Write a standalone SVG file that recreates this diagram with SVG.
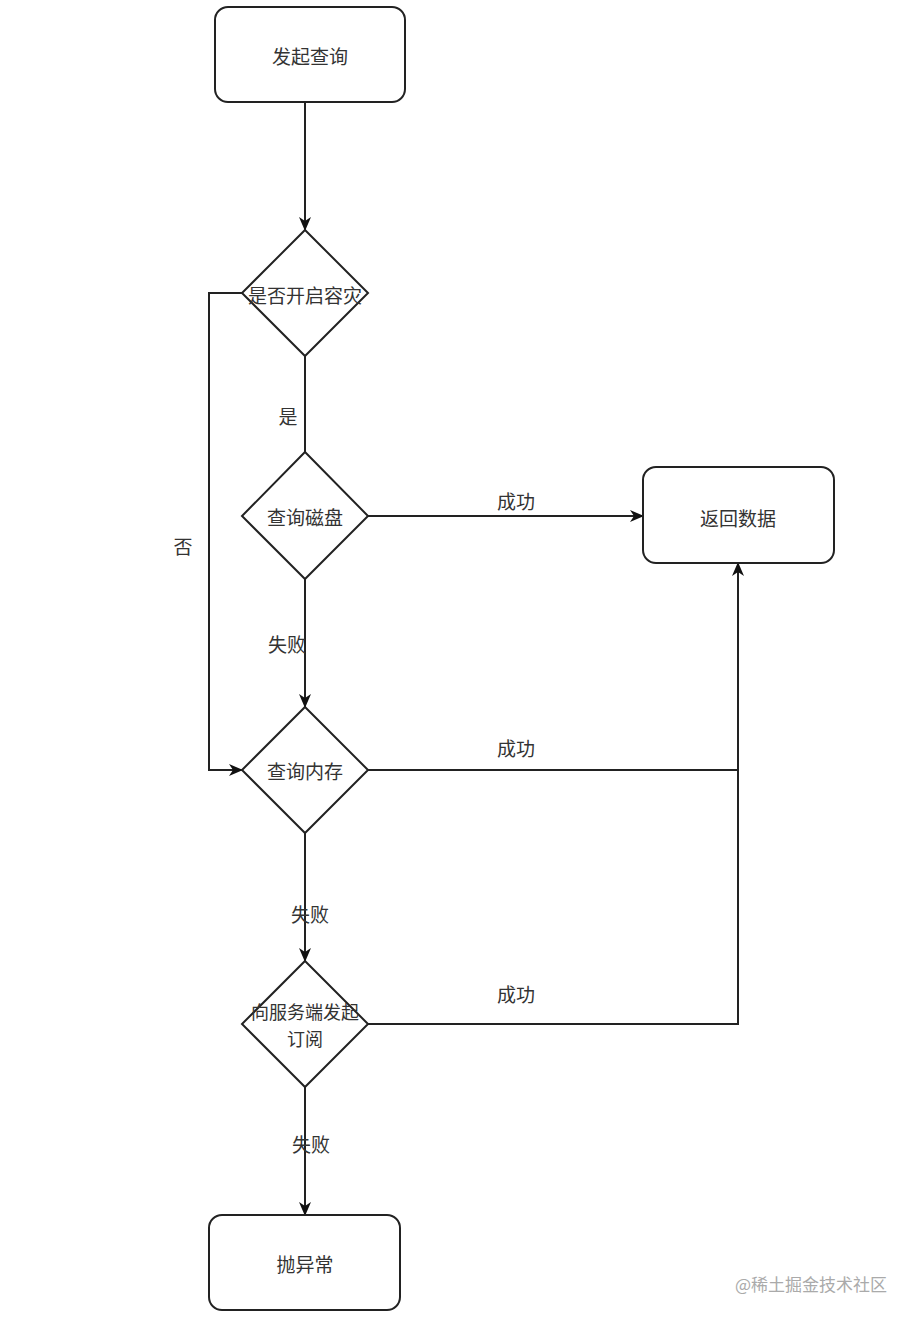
<svg xmlns="http://www.w3.org/2000/svg" width="924" height="1322" viewBox="0 0 924 1322">
<style>
.n{fill:#fff;stroke:#222;stroke-width:2}
.e{fill:none;stroke:#222;stroke-width:2}
.t{font-family:"Noto Sans CJK SC","Noto Sans",sans-serif;font-size:19px;fill:#333;text-anchor:middle;dominant-baseline:central}
.s{font-size:18px}
.w{font-family:"Noto Sans CJK SC","Noto Sans",sans-serif;font-size:17px;fill:#aaa;text-anchor:start;dominant-baseline:central}
</style>
<defs>
<marker id="arr" viewBox="0 0 14 12" refX="13" refY="6" markerWidth="14" markerHeight="12" markerUnits="userSpaceOnUse" orient="auto">
<path d="M0,0 L14,6 L0,12 L4,6 Z" fill="#111"/>
</marker>
</defs>
<rect width="924" height="1322" fill="#fff"/>
<g id="connectors">
<path class="e" d="M305,102 V230" marker-end="url(#arr)"/>
<path class="e" d="M242,293 H209 V770 H242" marker-end="url(#arr)"/>
<path class="e" d="M305,356 V452"/>
<path class="e" d="M368,516 H643" marker-end="url(#arr)"/>
<path class="e" d="M305,579 V707" marker-end="url(#arr)"/>
<path class="e" d="M368,770 H738"/>
<path class="e" d="M305,833 V961" marker-end="url(#arr)"/>
<path class="e" d="M368,1024 H738 V563" marker-end="url(#arr)"/>
<path class="e" d="M305,1087 V1215" marker-end="url(#arr)"/>
<g id="edge-labels">
<text class="t" x="288" y="415">是</text>
<text class="t" x="183" y="545">否</text>
<text class="t" x="516" y="500">成功</text>
<text class="t" x="287" y="643">失败</text>
<text class="t" x="516" y="747">成功</text>
<text class="t" x="310" y="913">失败</text>
<text class="t" x="516" y="993">成功</text>
<text class="t" x="311" y="1143">失败</text>
</g>
</g>
<g id="start"><rect class="n" x="215" y="7" width="190" height="95" rx="13"/><text class="t" x="310" y="55">发起查询</text></g>
<g id="d1"><path class="n" d="M305,230 L368,293 L305,356 L242,293 Z"/><text class="t" x="305" y="294">是否开启容灾</text></g>
<g id="d2"><path class="n" d="M305,452 L368,516 L305,579 L242,516 Z"/><text class="t" x="305" y="516">查询磁盘</text></g>
<g id="ret"><rect class="n" x="643" y="467" width="191" height="96" rx="13"/><text class="t" x="738" y="517">返回数据</text></g>
<g id="d3"><path class="n" d="M305,707 L368,770 L305,833 L242,770 Z"/><text class="t" x="305" y="770">查询内存</text></g>
<g id="d4"><path class="n" d="M305,961 L368,1024 L305,1087 L242,1024 Z"/><text class="t s" x="305" y="1011"><tspan x="305" y="1011">向服务端发起</tspan><tspan x="305" y="1038">订阅</tspan></text></g>
<g id="err"><rect class="n" x="209" y="1215" width="191" height="95" rx="13"/><text class="t" x="305" y="1263">抛异常</text></g>
<text class="w" x="735" y="1283">@稀土掘金技术社区</text>
</svg>
